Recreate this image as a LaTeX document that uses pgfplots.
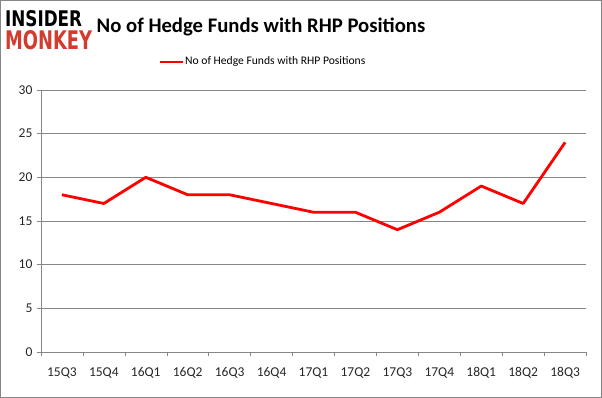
\documentclass[border=0pt]{standalone}
\usepackage{pgfplots}
\pgfplotsset{compat=1.18}
\usepackage{fontspec}
\usepackage{graphicx}
\setmainfont{Carlito}
\definecolor{axgray}{HTML}{868686}
\definecolor{monkeyred}{HTML}{D23B2E}
\begin{document}
\begin{tikzpicture}[x=1pt,y=1pt]
\draw[axgray, line width=0.8pt] (0.5,0.5) rectangle (601.5,397.5);
\node[anchor=west, inner sep=0pt] at (5,379.5) {\resizebox{77pt}{16pt}{\fontspec{DejaVu Sans}\bfseries INSIDER}};
\node[anchor=west, inner sep=0pt] at (5,358) {\resizebox{87pt}{19pt}{\fontspec{DejaVu Sans}\bfseries\color{monkeyred}MONKEY}};
\node[anchor=center, inner sep=0pt] at (261,371) {\fontsize{20.7}{24}\selectfont\bfseries No of Hedge Funds with RHP Positions};
\draw[red, line width=1.4pt] (160,336) -- (183,336);
\node[anchor=west, inner sep=0pt] at (185,336) {\fontsize{11.6}{14}\selectfont No of Hedge Funds with RHP Positions};
\begin{axis}[
  at={(41pt,46pt)}, anchor=south west,
  scale only axis, width=545pt, height=262pt,
  xmin=-0.5, xmax=12.5, ymin=0, ymax=30,
  ytick={0,5,...,30},
  xtick={0,...,12},
  xticklabels={15Q3,15Q4,16Q1,16Q2,16Q3,16Q4,17Q1,17Q2,17Q3,17Q4,18Q1,18Q2,18Q3},
  minor xtick={-0.5,0.5,...,12.5},
  major x tick style={draw=none},
  minor tick length=4pt,
  major tick length=4pt,
  tick align=outside,
  xtick pos=bottom, ytick pos=left,
  axis line style={axgray},
  every tick/.style={axgray},
  ymajorgrids, grid style={axgray, line width=0.6pt},
  axis x line*=bottom, axis y line*=left,
  separate axis lines,
  tick label style={font=\fontsize{13.5}{15}\selectfont, text=black!85},
  xticklabel style={yshift=-8pt},
  yticklabel style={xshift=-1pt},
  /pgf/number format/assume math mode=true,
]
\addplot[red, line width=2.8pt, line join=round] coordinates {
(0,18) (1,17) (2,20) (3,18) (4,18) (5,17) (6,16) (7,16) (8,14) (9,16) (10,19) (11,17) (12,24)};
\end{axis}
\end{tikzpicture}
\end{document}
